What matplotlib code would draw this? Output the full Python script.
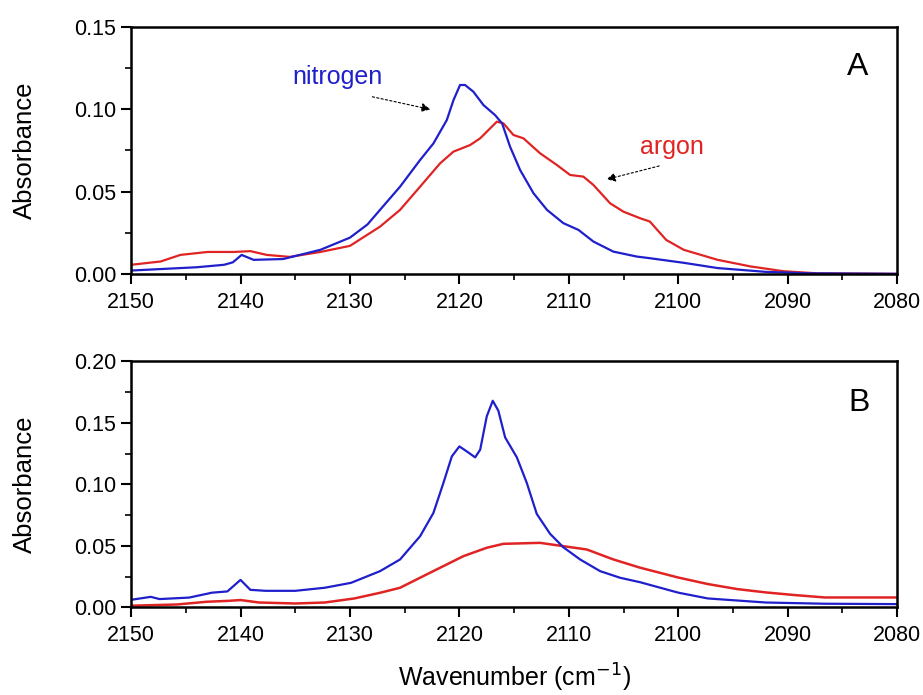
import numpy as np
import matplotlib
matplotlib.use("Agg")
import matplotlib.pyplot as plt
from matplotlib.ticker import MultipleLocator, FormatStrFormatter

plt.rcParams['font.family'] = ['Liberation Sans', 'DejaVu Sans']

# panel A - nitrogen
a_n2_x = [2150, 2147, 2144, 2141.5, 2140.7, 2139.9, 2138.8, 2136.1, 2132.7, 2130, 2128.4,
          2127.25, 2125.42, 2123.59, 2122.37, 2121.15, 2120.54, 2119.94, 2119.48, 2118.72,
          2117.8, 2116.74, 2116.1, 2115.37, 2114.45, 2113.23, 2112.0, 2110.5, 2109.12,
          2107.75, 2105.93, 2103.79, 2102.6, 2099.5, 2096.4, 2092, 2088, 2080]
a_n2_y = [0.002, 0.003, 0.004, 0.0055, 0.007, 0.0115, 0.0085, 0.009, 0.0146, 0.022, 0.030,
          0.0389, 0.053, 0.0692, 0.0793, 0.0935, 0.1056, 0.1148, 0.1148, 0.1107,
          0.1026, 0.0965, 0.0915, 0.0773, 0.0631, 0.049, 0.0389, 0.0308, 0.0267,
          0.0196, 0.0135, 0.0105, 0.0095, 0.0067, 0.0035, 0.0012, 0.0003, 0.0]

# panel A - argon
a_ar_x = [2150, 2147.3, 2145.5, 2143, 2140.6, 2139.1, 2137.6, 2135.5, 2132.7, 2130,
          2127.25, 2125.42, 2123.59, 2121.76, 2120.54, 2119.02, 2118.1, 2116.58, 2115.98,
          2115.06, 2114.15, 2112.63, 2111.1, 2109.88, 2108.67, 2107.75, 2106.23, 2105.01,
          2103.49, 2102.6, 2101.1, 2099.5, 2096.4, 2093.4, 2090.4, 2087.3, 2080]
a_ar_y = [0.0055, 0.0075, 0.0115, 0.0133, 0.0133, 0.0138, 0.0115, 0.0103, 0.0133, 0.017,
          0.0287, 0.0389, 0.053, 0.0672, 0.0743, 0.0783, 0.0824, 0.0925, 0.0915,
          0.0844, 0.0824, 0.0733, 0.0662, 0.0601, 0.0591, 0.054, 0.0429, 0.0378,
          0.0338, 0.0318, 0.0206, 0.0146, 0.0085, 0.0045, 0.0016, 0.0003, 0.0]

# panel B - nitrogen
b_n2_x = [2150, 2148.2, 2147.4, 2144.7, 2142.6, 2141.2, 2140, 2139.1, 2137.7, 2135, 2132.3,
          2129.9, 2127.25, 2125.42, 2123.59, 2122.37, 2121.46, 2120.69, 2120.0, 2119.32,
          2118.56, 2118.1, 2117.5, 2116.95, 2116.44, 2115.82, 2114.75, 2113.84, 2112.93,
          2111.71, 2110.5, 2108.97, 2107.14, 2105.31, 2103.49, 2100, 2097.3, 2092, 2086.6, 2080]
b_n2_y = [0.0062, 0.0086, 0.0068, 0.008, 0.012, 0.013, 0.0224, 0.0143, 0.0135, 0.0135, 0.016,
          0.020, 0.0295, 0.039, 0.0579, 0.0769, 0.1012, 0.1228, 0.1309, 0.1268,
          0.122, 0.1282, 0.1553, 0.168, 0.1599, 0.1382, 0.122, 0.1012, 0.076,
          0.0598, 0.0489, 0.039, 0.0295, 0.0241, 0.0205, 0.012, 0.0073, 0.004, 0.003, 0.0027]

# panel B - argon
b_ar_x = [2150, 2145.8, 2143.1, 2141, 2140, 2138.3, 2135, 2132.3, 2129.6, 2127.25, 2125.42,
          2122.68, 2119.63, 2117.5, 2115.98, 2112.63, 2110.5, 2108.36, 2105.93, 2103.49,
          2100, 2097.3, 2094.6, 2092, 2089.3, 2086.6, 2080]
b_ar_y = [0.0014, 0.0024, 0.0046, 0.0054, 0.006, 0.004, 0.0032, 0.004, 0.0073, 0.0119, 0.016,
          0.0282, 0.0417, 0.0485, 0.0517, 0.0525, 0.0498, 0.0471, 0.039, 0.0323,
          0.0243, 0.019, 0.0149, 0.0122, 0.010, 0.0081, 0.0081]

x_ticks = [2150, 2140, 2130, 2120, 2110, 2100, 2090, 2080]
blue = '#1f1fcc'
red = '#e02424'

fig = plt.figure(figsize=(9.23, 6.95), dpi=100)
ax1 = fig.add_axes([0.142, 0.606, 0.830, 0.355])
ax2 = fig.add_axes([0.142, 0.126, 0.830, 0.354])


def style_axis(ax, ymax, ystep):
    ax.set_xlim(2150, 2080)
    ax.set_ylim(0, ymax)
    ax.set_xticks(x_ticks)
    ax.set_yticks(np.arange(0, ymax + 1e-9, ystep))
    ax.xaxis.set_minor_locator(MultipleLocator(5))
    ax.yaxis.set_minor_locator(MultipleLocator(ystep / 2))
    ax.yaxis.set_major_formatter(FormatStrFormatter('%.2f'))
    ax.tick_params(which='major', direction='out', length=7, width=1.5, labelsize=15.5)
    ax.tick_params(axis='x', which='major', pad=6)
    ax.tick_params(which='minor', direction='out', length=4, width=1.2)
    for s in ax.spines.values():
        s.set_linewidth(1.8)
    ax.set_ylabel('Absorbance', fontsize=18.5)
    ax.yaxis.set_label_coords(-0.123, 0.5)


ax1.plot(a_ar_x, a_ar_y, color=red, lw=1.6)
ax1.plot(a_n2_x, a_n2_y, color=blue, lw=1.6)
style_axis(ax1, 0.15, 0.05)
ax1.text(0.948, 0.838, 'A', transform=ax1.transAxes, fontsize=23, ha='center', va='center')

arrow = dict(arrowstyle='-|>', linestyle=(0, (2, 2)), color='black', lw=0.8, mutation_scale=13)
ax1.text(2131.1, 0.1196, 'nitrogen', color=blue, fontsize=18, ha='center', va='center')
ax1.annotate('', xy=(2122.4, 0.0996), xytext=(2128.2, 0.108), arrowprops=arrow)
ax1.text(2100.6, 0.077, 'argon', color=red, fontsize=18, ha='center', va='center')
ax1.annotate('', xy=(2106.8, 0.057), xytext=(2101.5, 0.066), arrowprops=arrow)

ax2.plot(b_ar_x, b_ar_y, color=red, lw=1.8)
ax2.plot(b_n2_x, b_n2_y, color=blue, lw=1.6)
style_axis(ax2, 0.20, 0.05)
ax2.text(0.95, 0.829, 'B', transform=ax2.transAxes, fontsize=23, ha='center', va='center')
ax2.set_xlabel('Wavenumber (cm$^{-1}$)', fontsize=18)
ax2.xaxis.set_label_coords(0.5, -0.222)

fig.savefig('out.png', dpi=100)
